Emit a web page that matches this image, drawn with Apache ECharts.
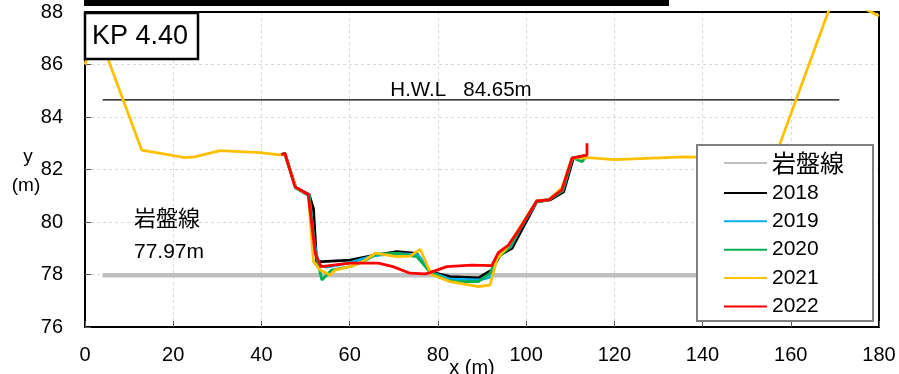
<!DOCTYPE html>
<html>
<head>
<meta charset="utf-8">
<script src="https://cdn.jsdelivr.net/npm/echarts@6/dist/echarts.min.js"></script>
<style>html,body{margin:0;padding:0;background:#fff}#c{width:899px;height:374px}</style>
</head>
<body>
<div id="c"></div>
<script>
// ---- data ----
var rockX = [4, 171];
var rockY = [77.97, 77.97];
var hwlX = [4, 171];
var hwlY = [84.65, 84.65];

var x2018 = [44.5, 45.3, 47.8, 50.8, 51.8, 52.5, 53.7, 60.1, 64.6, 70.7, 75.2, 78.2, 82.8, 89.2, 92.2, 94.1, 96.8, 102.4, 105.4, 108.5, 110.7, 113.8];
var y2018 = [82.56, 82.62, 81.3, 81.05, 80.5, 78.49, 78.49, 78.55, 78.7, 78.87, 78.8, 78.1, 77.92, 77.87, 78.17, 78.74, 79.0, 80.77, 80.84, 81.15, 82.43, 82.55];

var x2019 = [44.5, 45.3, 47.8, 50.8, 52.0, 53.0, 54.8, 60.1, 65.5, 70.7, 75.5, 78.2, 82.8, 89.2, 92.0, 93.8, 96.5, 98.5, 102.4, 105.2, 108.3, 110.5, 113.8];
var y2019 = [82.56, 82.62, 81.28, 81.0, 79.2, 78.35, 78.28, 78.45, 78.72, 78.8, 78.75, 78.1, 77.82, 77.79, 77.9, 78.75, 79.05, 79.7, 80.78, 80.86, 81.2, 82.45, 82.5];

var x2020 = [44.5, 45.3, 47.8, 50.8, 52.0, 53.7, 55.9, 60.1, 63.1, 66.1, 70.7, 75.2, 78.2, 82.0, 83.9, 89.2, 91.8, 93.4, 96.3, 98.5, 102.4, 105.2, 108.3, 110.5, 112.7, 113.6];
var y2020 = [82.56, 82.62, 81.3, 81.0, 79.0, 77.79, 78.17, 78.3, 78.49, 78.78, 78.8, 78.68, 78.1, 77.79, 77.73, 77.73, 78.05, 78.6, 79.05, 79.7, 80.8, 80.85, 81.2, 82.45, 82.3, 82.5];

var x2021 = [0, 2.7, 12.85, 22.7, 24.9, 30.6, 39.7, 44.1, 45.3, 47.8, 50.6, 51.8, 53.3, 55.6, 56.7, 60.1, 63.1, 65.8, 70.7, 73.7, 76.0, 78.5, 82.8, 89.2, 91.8, 93.4, 96.0, 98.2, 102.4, 105.1, 108.1, 110.4, 114.0, 120.0, 136.0, 145.0, 156.5, 170.0, 180.0];
var y2021 = [86.0, 87.35, 82.74, 82.45, 82.48, 82.72, 82.64, 82.56, 82.6, 81.3, 81.05, 78.49, 78.17, 77.98, 78.17, 78.3, 78.5, 78.81, 78.68, 78.7, 78.96, 78.0, 77.73, 77.54, 77.6, 78.6, 79.1, 79.7, 80.8, 80.84, 81.3, 82.43, 82.45, 82.38, 82.48, 82.45, 82.5, 88.7, 87.85];

var x2022 = [44.5, 45.3, 47.6, 50.6, 52.2, 53.5, 60.1, 66.5, 69.8, 73.7, 77.1, 78.2, 82.0, 87.7, 92.2, 93.7, 96.0, 98.6, 102.4, 105.1, 108.1, 110.4, 113.8, 113.8];
var y2022 = [82.56, 82.62, 81.34, 81.05, 78.8, 78.3, 78.43, 78.43, 78.3, 78.05, 78.02, 78.07, 78.3, 78.36, 78.34, 78.83, 79.12, 79.76, 80.8, 80.84, 81.22, 82.43, 82.55, 83.0];

var xTicks = [0, 20, 40, 60, 80, 100, 120, 140, 160, 180];
var yTicks = [76, 78, 80, 82, 84, 86, 88];
var legendNames = ['岩盤線', '2018', '2019', '2020', '2021', '2022'];

function pairs(xs, ys) { return xs.map(function (v, i) { return [v, ys[i]]; }); }

var chart = echarts.init(document.getElementById('c'), null, { renderer: 'canvas' });
var FONT = 'Liberation Sans, Arial, sans-serif';
var JFONT = 'Noto Sans CJK JP, sans-serif';

function lineSeries(name, xs, ys, color, width, z) {
  return {
    name: name, type: 'line', data: pairs(xs, ys), symbol: 'none', z: z,
    xAxisIndex: 0, yAxisIndex: 0,
    lineStyle: { color: color, width: width }, itemStyle: { color: color },
    animation: false, clip: true
  };
}

var xMin = xTicks[0], xMax = xTicks[xTicks.length - 1];
var yMin = yTicks[0], yMax = yTicks[yTicks.length - 1];

chart.setOption({
  animation: false,
  grid: { left: 85, right: 20, top: 12, bottom: 47 },
  xAxis: [{
    type: 'value', min: xMin, max: xMax, interval: 20,
    axisLine: { lineStyle: { color: '#000', width: 2 } },
    axisTick: { inside: true, length: 6, lineStyle: { color: '#595959' } },
    splitLine: { show: true, lineStyle: { color: '#d9d9d9', type: [3, 3], width: 1 } },
    axisLabel: { fontSize: 20, color: '#000', fontFamily: FONT, margin: 18 }
  }, {
    type: 'value', position: 'top', min: xMin, max: xMax, interval: 20,
    axisLine: { show: true, onZero: false, lineStyle: { color: '#000', width: 2 } },
    axisTick: { show: false }, axisLabel: { show: false }, splitLine: { show: false }
  }],
  yAxis: [{
    type: 'value', min: yMin, max: yMax, interval: 2,
    axisLine: { show: true, lineStyle: { color: '#000', width: 2 } },
    axisTick: { show: true, inside: true, length: 6, lineStyle: { color: '#595959' } },
    splitLine: { show: true, lineStyle: { color: '#d9d9d9', type: [3, 3], width: 1 } },
    axisLabel: { fontSize: 20, color: '#000', fontFamily: FONT, margin: 22 }
  }, {
    type: 'value', position: 'right', min: yMin, max: yMax, interval: 2,
    axisLine: { show: true, onZero: false, lineStyle: { color: '#000', width: 2 } },
    axisTick: { show: false }, axisLabel: { show: false }, splitLine: { show: false }
  }],
  legend: {
    data: legendNames, orient: 'vertical', left: 697, top: 145,
    backgroundColor: '#fff', borderColor: '#7f7f7f', borderWidth: 2,
    padding: [6, 29, 4, 26], itemWidth: 43, itemHeight: 14, itemGap: 7.4,
    itemStyle: { opacity: 0 },
    textStyle: { fontSize: 21, color: '#000', fontFamily: FONT,
      rich: { j: { fontSize: 24, fontFamily: JFONT, color: '#000' } } },
    formatter: function (n) { return n === '岩盤線' ? '{j|' + n + '}' : n; },
    z: 50
  },
  series: [
    lineSeries('岩盤線', rockX, rockY, '#bfbfbf', 4.5, 2),
    lineSeries('H.W.L', hwlX, hwlY, '#000', 1.3, 2),
    lineSeries('2018', x2018, y2018, '#000000', 2.8, 3),
    lineSeries('2019', x2019, y2019, '#00b0f0', 2.8, 4),
    lineSeries('2020', x2020, y2020, '#00b050', 2.8, 5),
    lineSeries('2021', x2021, y2021, '#ffc000', 2.8, 6),
    lineSeries('2022', x2022, y2022, '#ff0000', 2.8, 7)
  ],
  graphic: [
    { type: 'rect', z: 100, shape: { x: 84, y: 0, width: 585, height: 6 }, style: { fill: '#000' } },
    { type: 'rect', z: 100, shape: { x: 85, y: 13, width: 113, height: 46 }, style: { fill: '#fff', stroke: '#000', lineWidth: 2.5 } },
    { type: 'text', z: 101, x: 92, y: 37, style: { text: 'KP 4.40', font: '27px ' + FONT, fill: '#000', verticalAlign: 'middle' } },
    { type: 'text', z: 101, x: 461, y: 90, style: { text: 'H.W.L   84.65m', font: '20.5px ' + FONT, fill: '#000', align: 'center', verticalAlign: 'middle' } },
    { type: 'text', z: 101, x: 134, y: 218, style: { text: '岩盤線', font: '22px ' + JFONT, fill: '#000', verticalAlign: 'middle' } },
    { type: 'text', z: 101, x: 134, y: 252, style: { text: '77.97m', font: '21px ' + FONT, fill: '#000', verticalAlign: 'middle' } },
    { type: 'text', z: 101, x: 28, y: 157, style: { text: 'y', font: '19px ' + FONT, fill: '#000', align: 'center', verticalAlign: 'middle' } },
    { type: 'text', z: 101, x: 26, y: 186, style: { text: '(m)', font: '19px ' + FONT, fill: '#000', align: 'center', verticalAlign: 'middle' } },
    { type: 'text', z: 101, x: 472, y: 368, style: { text: 'x (m)', font: '20px ' + FONT, fill: '#000', align: 'center', verticalAlign: 'middle' } }
  ]
});
</script>
</body>
</html>
